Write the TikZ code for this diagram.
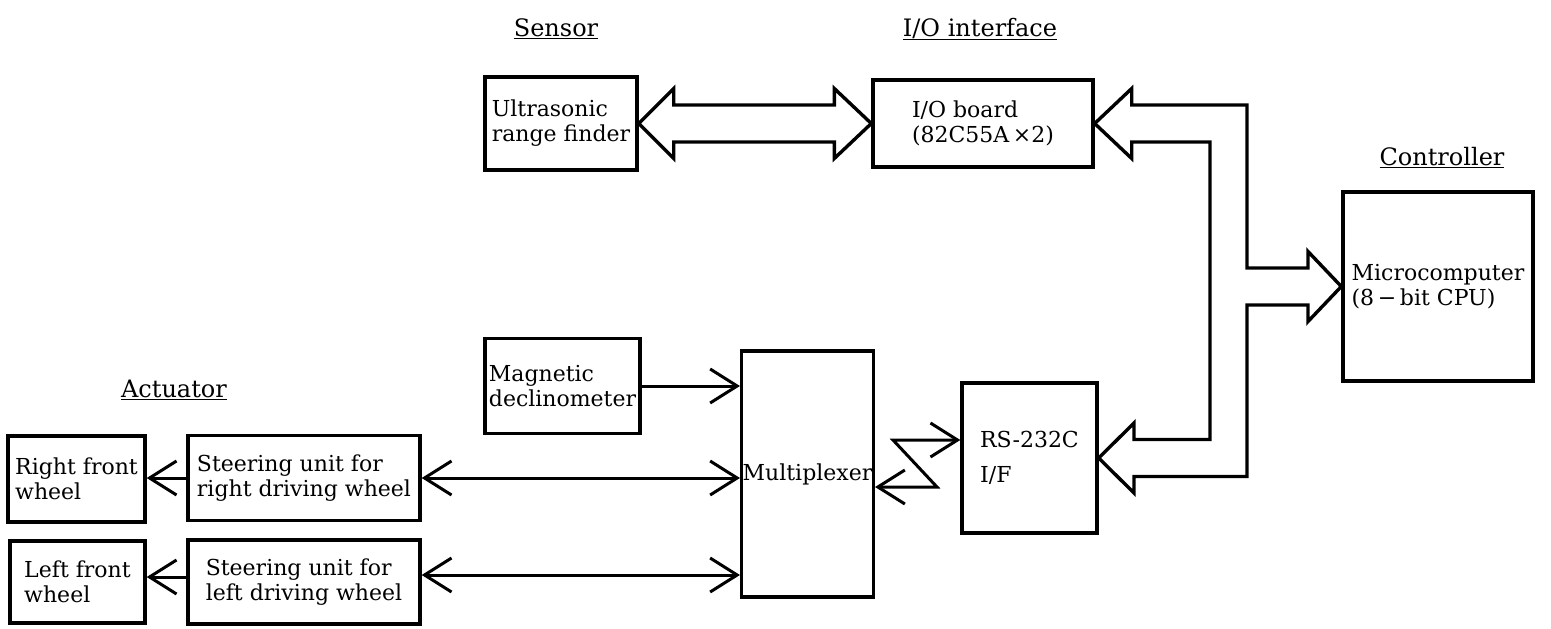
\documentclass[tikz,border=0pt]{standalone}
\usepackage{fontspec}
\setmainfont{DejaVu Serif}
\usetikzlibrary{arrows.meta,calc}
\begin{document}
\begin{tikzpicture}[x=1pt,y=-1pt,
  box/.style={draw, line width=3.4pt, inner sep=1pt, align=left, fill=white,
    font=\fontsize{22}{25}\selectfont},
  ttl/.style={anchor=base, inner sep=0pt, font=\fontsize{24}{28}\selectfont},
  arr/.style={line width=3pt, line join=miter},
  bus/.style={line width=3.4pt, fill=white, line join=miter},
  >={Straight Barb[length=27pt,width=34pt]}
]
\fill[white] (0,0) rectangle (1551,629);
\useasboundingbox (0,0) rectangle (1551,629);

% titles
\node[ttl] (tS) at (556,36) {\underline{Sensor}};
\node[ttl] (tIO) at (980,36) {\underline{I/O interface}};
\node[ttl] (tC) at (1442,165) {\underline{Controller}};
\node[ttl] (tA) at (174,397) {\underline{Actuator}};

% boxes
\node[box, minimum width=152pt, minimum height=93pt] (us) at (561,123.5) {Ultrasonic\\range finder};
\node[box, minimum width=220pt, minimum height=87pt] (io) at (983,123.5) {I/O board\\(82C55A\,×2)};
\node[box, minimum width=190pt, minimum height=189pt] (mc) at (1438,286.5) {Microcomputer\\(8\,−\,bit CPU)};
\node[box, minimum width=155pt, minimum height=95pt] (mag) at (562.5,386) {Magnetic\\declinometer};
\node[box, minimum width=131pt, minimum height=246pt] (mux) at (807.5,474) {Multiplexer};
\node[box, minimum width=135pt, minimum height=150pt] (rs) at (1029.5,458) {RS-232C\\[10pt]I/F};
\node[box, minimum width=137pt, minimum height=86pt] (wR) at (76.5,479) {Right front\\wheel};
\node[box, minimum width=232pt, minimum height=85pt] (sR) at (304,478) {Steering unit for\\right driving wheel};
\node[box, minimum width=135pt, minimum height=82pt] (wL) at (77.5,582) {Left front\\wheel};
\node[box, minimum width=232pt, minimum height=84pt] (sL) at (304,582) {Steering unit for\\left driving wheel};

% thin connectors
\draw[arr,->] (mag.east) -- (mag.east -| mux.west);
\draw[arr,<->] (sR.east) -- (sR.east -| mux.west);
\coordinate (sLr) at ([yshift=7pt]sL.east);
\draw[arr,<->] (sLr) -- (sLr -| mux.west);
\draw[arr,->] (sR.west) -- (sR.west -| wR.east);
\coordinate (sLl) at ([yshift=5pt]sL.west);
\draw[arr,->] (sLl) -- (sLl -| wL.east);

% zigzag between multiplexer and RS-232C
\coordinate (rsin) at ([yshift=18pt]rs.west);
\coordinate (muxout) at ([yshift=-13pt]mux.east);
\coordinate (z1) at (893,440);
\coordinate (z2) at (937,487);
\draw[arr,<->] (rsin) -- (z1) -- (z2) -- (muxout);

% wide bus: sensor <-> I/O board
\draw[bus] (us.east) -- ++(35,-35) -- ++(0,16.5) -- ($(io.west)+(-37,-18.5)$) -- ++(0,-16.5)
  -- (io.west) -- ++(-37,35) -- ++(0,-16.5) -- ($(us.east)+(35,18.5)$) -- ++(0,16.5) -- cycle;

% wide bus: I/O board, RS-232C <-> microcomputer
\draw[bus] (io.east) -- ++(37,-35) -- ++(0,16.5) -- (1247,105) -- (1247,268) -- (1308,268)
  -- (1308,251.5) -- (mc.west) -- (1308,321.5) -- (1308,305) -- (1247,305) -- (1247,476.5)
  -- (1134,476.5) -- (1134,493) -- (rs.east) -- (1134,423) -- (1134,439.5) -- (1210,439.5)
  -- (1210,142) -- ($(io.east)+(37,18.5)$) -- ++(0,16.5) -- cycle;
\end{tikzpicture}
\end{document}
